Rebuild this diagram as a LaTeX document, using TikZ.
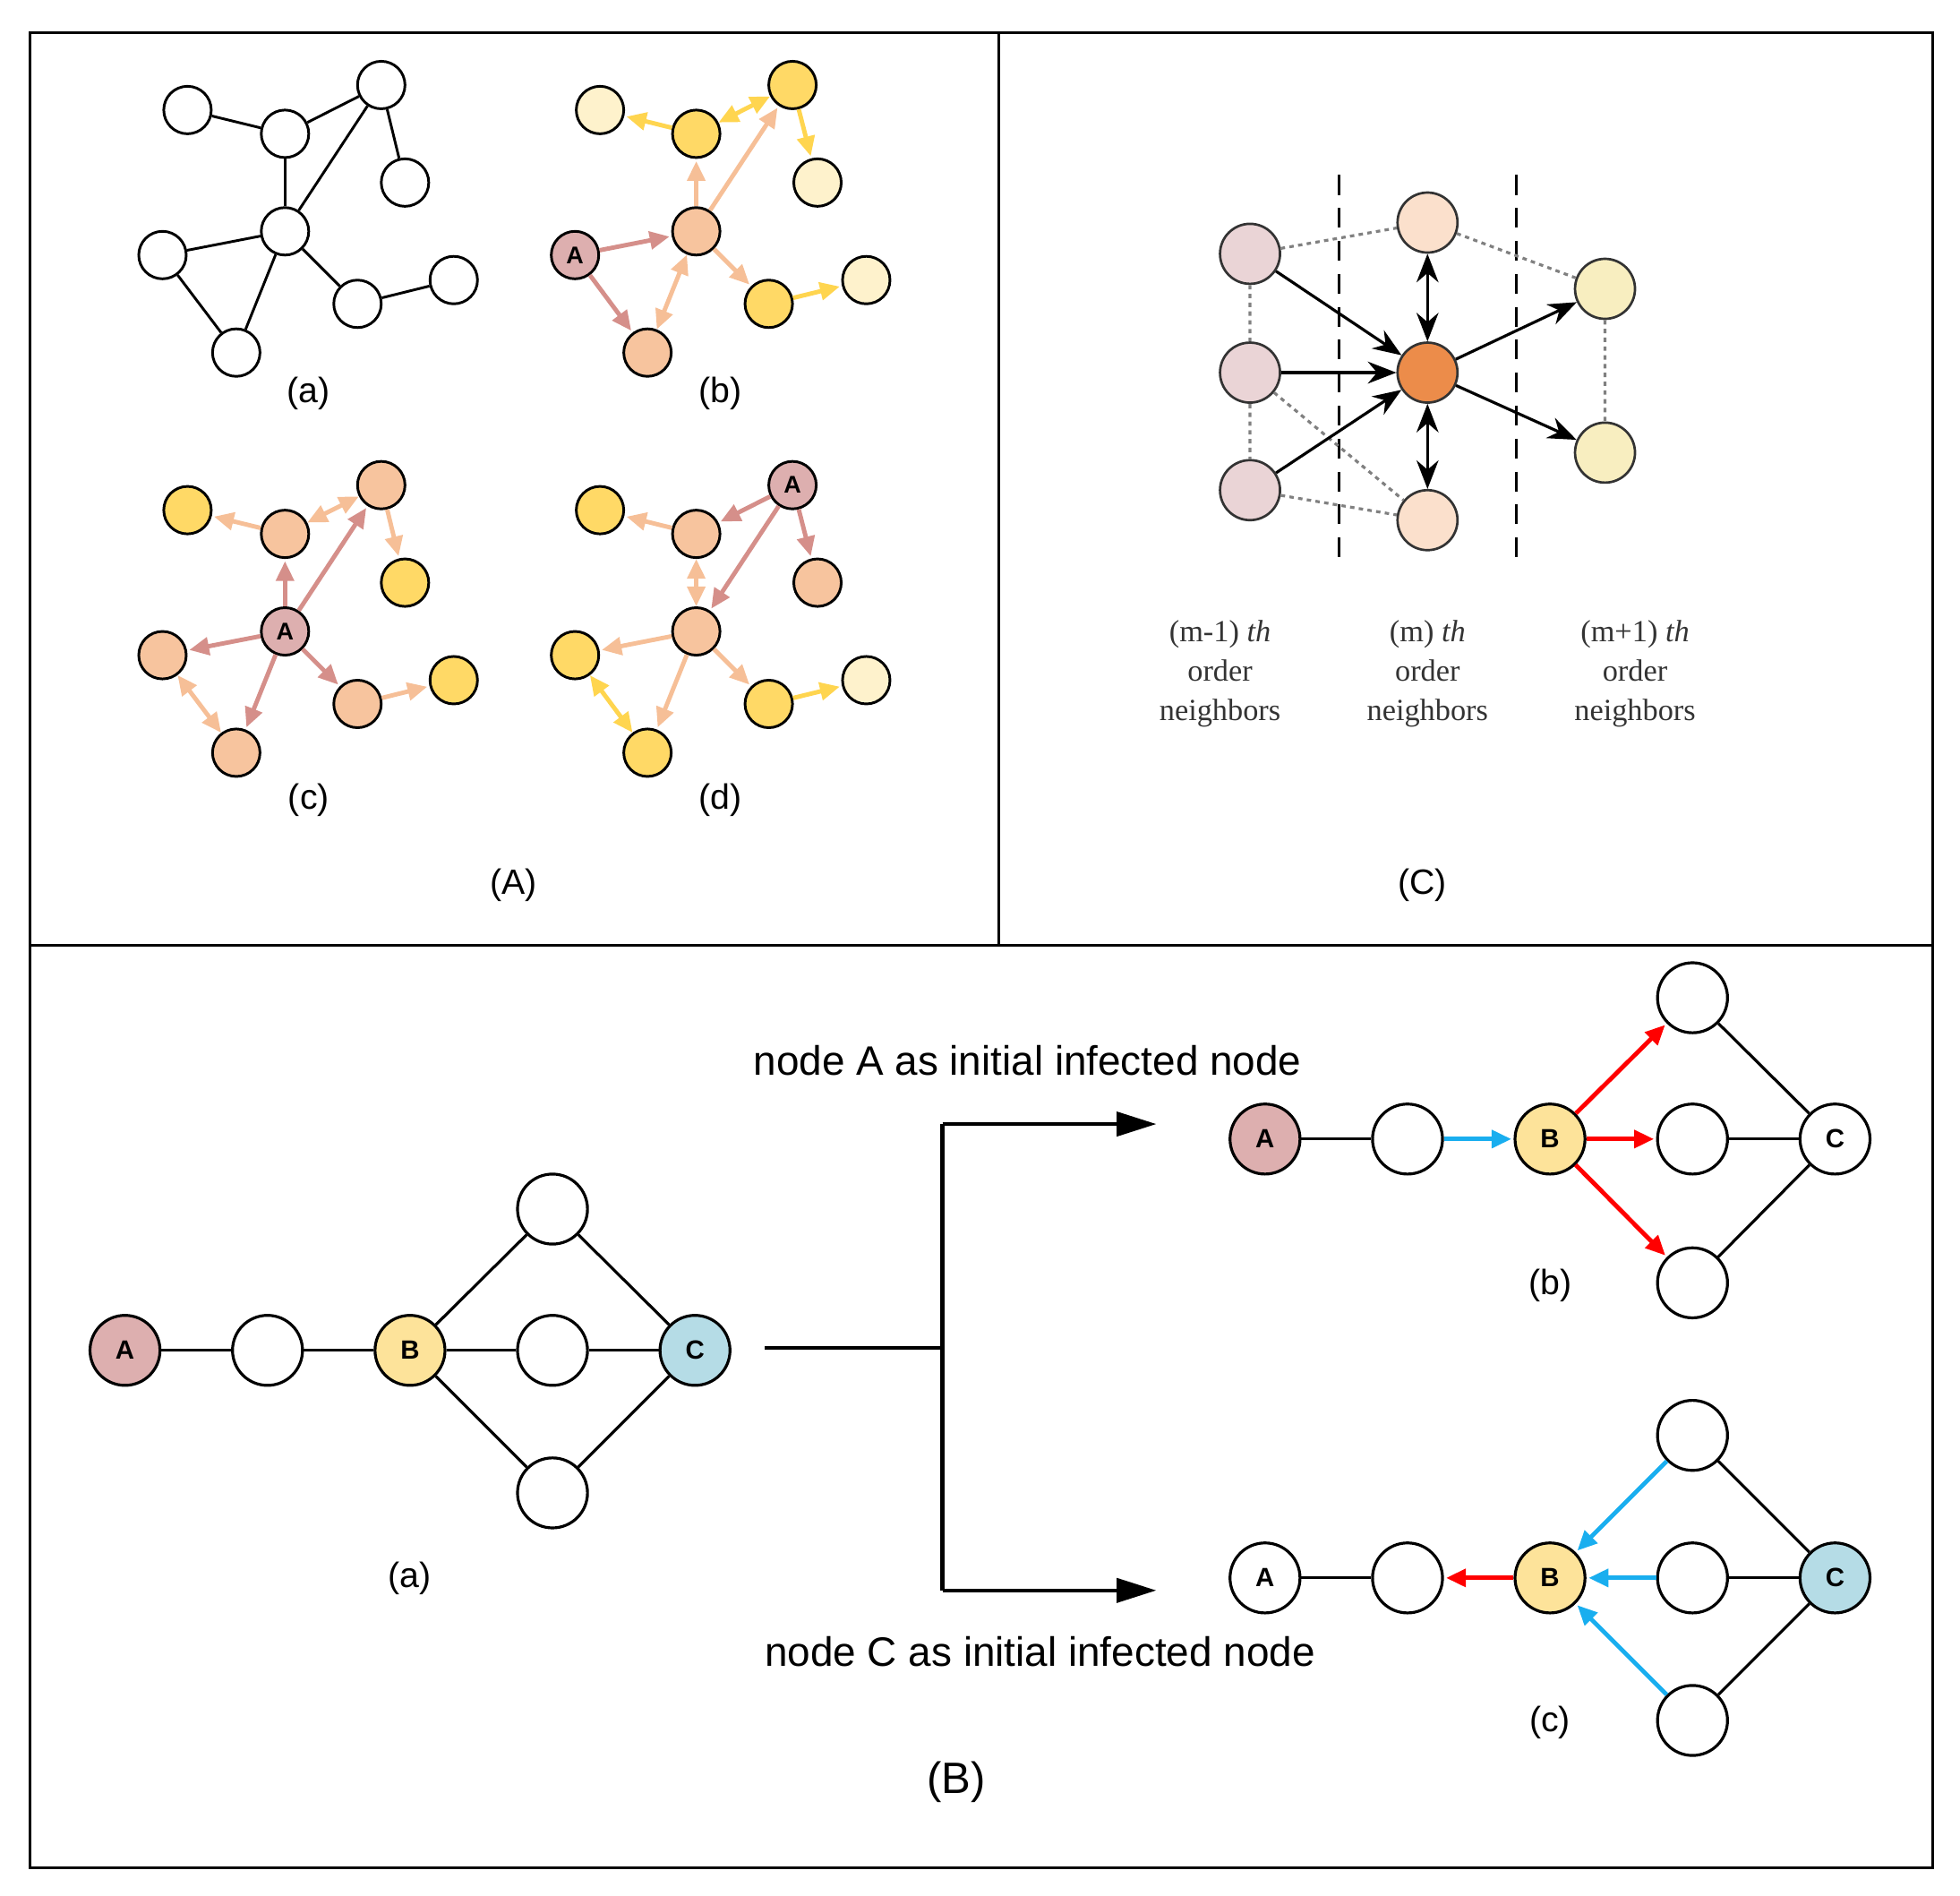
\documentclass[tikz,border=0pt]{standalone}
\usepackage{fontspec}
\setmainfont{Liberation Sans}
\newfontfamily\tms{Liberation Serif}
\usetikzlibrary{arrows.meta}
\definecolor{lyel}{HTML}{FEF2CC}
\definecolor{yel}{HTML}{FFD966}
\definecolor{pch}{HTML}{F7C49E}
\definecolor{apk}{HTML}{DDAFAF}
\definecolor{dpk}{HTML}{D58F8A}
\definecolor{apch}{HTML}{F6BF97}
\definecolor{ayel}{HTML}{FFD54F}
\definecolor{byel}{HTML}{FDE39A}
\definecolor{bblue}{HTML}{B5DCE6}
\definecolor{cyanA}{HTML}{19AEEF}
\begin{document}
\begin{tikzpicture}[x=0.02cm,y=-0.02cm,
 sn/.style={circle,draw,line width=1.2pt,minimum size=0.76cm,inner sep=0pt,font=\bfseries\fontsize{11}{11}\selectfont},
 cn/.style={circle,draw=black!80,line width=1.1pt,minimum size=0.96cm,inner sep=0pt},
 bn/.style={circle,draw,line width=1.3pt,minimum size=1.12cm,inner sep=0pt,font=\bfseries\fontsize{12}{12}\selectfont},
 lab/.style={font=\fontsize{16}{16}\selectfont},
 ar/.style={line width=2pt,-{Triangle[length=9pt,width=8pt]},shorten >=1pt},
 dar/.style={line width=2pt,{Triangle[length=9pt,width=8pt]}-{Triangle[length=9pt,width=8pt]}},
 carr/.style={line width=1.3pt,-{Stealth[length=13pt,width=10pt]}},
 cdar/.style={line width=1.3pt,{Stealth[length=13pt,width=10pt]}-{Stealth[length=13pt,width=10pt]}},
 dot/.style={gray,dash pattern=on 2pt off 2pt,line width=1.3pt},
 barr/.style={line width=1.6pt,-{Triangle[length=18pt,width=11pt]}},
 nt/.style={font=\tms\fontsize{14}{14}\selectfont,text=black!80,align=center}]
\useasboundingbox (0,0) rectangle (1568,1516);
\draw[line width=1.2pt] (24,26) rectangle (1546,1494);
\draw[line width=1.2pt] (799,26) -- (799,756) (24,756) -- (1546,756);
% (a)
\foreach \n/\x/\y in {1/150/88,2/228/107,3/305/68,4/324/146,5/228/185,6/130/204,7/189/282,8/286/243,9/363/224}
  \node[sn,fill=white] (a\n) at (\x,\y) {};
\foreach \u/\v in {1/2,2/3,3/4,2/5,5/3,5/6,6/7,5/7,5/8,8/9} \draw[line width=1.2pt] (a\u)--(a\v);
% (b)
\node[sn,fill=lyel] (b1) at (480,88) {};
\node[sn,fill=yel] (b2) at (557,107) {};
\node[sn,fill=yel] (b3) at (634,68) {};
\node[sn,fill=lyel] (b4) at (654,146) {};
\node[sn,fill=pch] (b5) at (557,185) {};
\node[sn,fill=apk] (b6) at (460,204) {A};
\node[sn,fill=pch] (b7) at (518,282) {};
\node[sn,fill=yel] (b8) at (615,243) {};
\node[sn,fill=lyel] (b9) at (693,224) {};
\draw[ar,dpk] (b6)--(b5); \draw[ar,dpk] (b6)--(b7);
\draw[ar,apch] (b5)--(b2); \draw[ar,apch] (b5)--(b3); \draw[dar,apch] (b5)--(b7); \draw[ar,apch] (b5)--(b8);
\draw[ar,ayel] (b2)--(b1); \draw[dar,ayel] (b2)--(b3); \draw[ar,ayel] (b3)--(b4); \draw[ar,ayel] (b8)--(b9);
% (c)
\node[sn,fill=yel] (c1) at (150,408) {};
\node[sn,fill=pch] (c2) at (228,427) {};
\node[sn,fill=pch] (c3) at (305,388) {};
\node[sn,fill=yel] (c4) at (324,466) {};
\node[sn,fill=apk] (c5) at (228,505) {A};
\node[sn,fill=pch] (c6) at (130,524) {};
\node[sn,fill=pch] (c7) at (189,602) {};
\node[sn,fill=pch] (c8) at (286,563) {};
\node[sn,fill=yel] (c9) at (363,544) {};
\foreach \v in {2,3,6,7,8} \draw[ar,dpk] (c5)--(c\v);
\draw[ar,apch] (c2)--(c1); \draw[dar,apch] (c2)--(c3); \draw[ar,apch] (c3)--(c4); \draw[dar,apch] (c6)--(c7); \draw[ar,apch] (c8)--(c9);
% (d)
\node[sn,fill=yel] (d1) at (480,408) {};
\node[sn,fill=pch] (d2) at (557,427) {};
\node[sn,fill=apk] (d3) at (634,388) {A};
\node[sn,fill=pch] (d4) at (654,466) {};
\node[sn,fill=pch] (d5) at (557,505) {};
\node[sn,fill=yel] (d6) at (460,524) {};
\node[sn,fill=yel] (d7) at (518,602) {};
\node[sn,fill=yel] (d8) at (615,563) {};
\node[sn,fill=lyel] (d9) at (693,544) {};
\foreach \v in {2,4,5} \draw[ar,dpk] (d3)--(d\v);
\draw[ar,apch] (d2)--(d1); \draw[dar,apch] (d2)--(d5); \draw[ar,apch] (d5)--(d6); \draw[ar,apch] (d5)--(d7); \draw[ar,apch] (d5)--(d8);
\draw[dar,ayel] (d6)--(d7); \draw[ar,ayel] (d8)--(d9);
\node[lab] (la) at (247,315) {(a)}; \node[lab] (lb) at (576,315) {(b)};
\node[lab] (lc) at (247,640) {(c)}; \node[lab] (ld) at (576,640) {(d)};
\node[lab] (lA) at (411,708) {(A)}; \node[lab] (lC) at (1138,708) {(C)};
% panel C
\draw[dashed,line width=1.3pt,dash pattern=on 9pt off 6pt] (1071,140)--(1071,455) (1213,140)--(1213,455);
\node[cn,fill={rgb,255:red,234;green,212;blue,214}] (L1) at (1000,203) {};
\node[cn,fill={rgb,255:red,234;green,212;blue,214}] (L2) at (1000,298) {};
\node[cn,fill={rgb,255:red,234;green,212;blue,214}] (L3) at (1000,392) {};
\node[cn,fill={rgb,255:red,251;green,224;blue,204}] (M1) at (1142,178) {};
\node[cn,fill={rgb,255:red,236;green,140;blue,74}] (M2) at (1142,298) {};
\node[cn,fill={rgb,255:red,251;green,224;blue,204}] (M3) at (1142,416) {};
\node[cn,fill={rgb,255:red,248;green,238;blue,192}] (R1) at (1284,231) {};
\node[cn,fill={rgb,255:red,248;green,238;blue,192}] (R2) at (1284,362) {};
\draw[dot] (L1)--(M1) (L1)--(L2) (L2)--(L3) (L3)--(M3) (L2)--(M3) (M1)--(R1) (R1)--(R2);
\draw[carr] (L1)--(M2); \draw[carr] (L2)--(M2); \draw[carr] (L3)--(M2);
\draw[cdar] (M2)--(M1); \draw[cdar] (M2)--(M3);
\draw[carr] (M2)--(R1); \draw[carr] (M2)--(R2);
\node[nt] (t1) at (976,539) {(m-1) \textit{th}\\[4pt]order\\[4pt]neighbors};
\node[nt] (t2) at (1142,539) {(m) \textit{th}\\[4pt]order\\[4pt]neighbors};
\node[nt] (t3) at (1308,539) {(m+1) \textit{th}\\[4pt]order\\[4pt]neighbors};
% panel B (a)
\node[bn,fill=apk] (pA) at (100,1080) {A};
\node[bn,fill=white] (p1) at (214,1080) {};
\node[bn,fill=byel] (pB) at (328,1080) {B};
\node[bn,fill=white] (pt) at (442,967) {};
\node[bn,fill=white] (pm) at (442,1080) {};
\node[bn,fill=white] (pb) at (442,1194) {};
\node[bn,fill=bblue] (pC) at (556,1080) {C};
\foreach \u/\v in {pA/p1,p1/pB,pB/pt,pB/pm,pB/pb,pt/pC,pm/pC,pb/pC} \draw[line width=1.3pt] (\u)--(\v);
\node[lab] (pla) at (328,1262) {(a)};
\node[font=\fontsize{20}{20}\selectfont] (pl) at (765,1425) {(B)};
% bracket
\coordinate (s0) at (612,1078); \coordinate (s1) at (754,1078);
\coordinate (s2) at (754,899); \coordinate (s3) at (754,1272);
\coordinate (e1) at (925,899); \coordinate (e2) at (925,1272);
\draw[line width=1.8pt] (s0)--(s1) (s2)--(s3);
\draw[barr] (s2)--(e1); \draw[barr] (s3)--(e2);
\node[font=\fontsize{18.7}{18.7}\selectfont] (ta) at (822,848) {node A as initial infected node};
\node[font=\fontsize{18.7}{18.7}\selectfont] (tc) at (832,1321) {node C as initial infected node};
% panel B (b)
\node[bn,fill=apk] (qA) at (1012,911) {A};
\node[bn,fill=white] (q1) at (1126,911) {};
\node[bn,fill=byel] (qB) at (1240,911) {B};
\node[bn,fill=white] (qt) at (1354,798) {};
\node[bn,fill=white] (qm) at (1354,911) {};
\node[bn,fill=white] (qb) at (1354,1026) {};
\node[bn,fill=white] (qC) at (1468,911) {C};
\foreach \u/\v in {qA/q1,qt/qC,qm/qC,qb/qC} \draw[line width=1.3pt] (\u)--(\v);
\draw[ar,cyanA] (q1)--(qB);
\draw[ar,red] (qB)--(qt); \draw[ar,red] (qB)--(qm); \draw[ar,red] (qB)--(qb);
\node[lab] (qlb) at (1240,1028) {(b)};
% panel B (c)
\node[bn,fill=white] (rA) at (1012,1262) {A};
\node[bn,fill=white] (r1) at (1126,1262) {};
\node[bn,fill=byel] (rB) at (1240,1262) {B};
\node[bn,fill=white] (rt) at (1354,1148) {};
\node[bn,fill=white] (rm) at (1354,1262) {};
\node[bn,fill=white] (rb) at (1354,1376) {};
\node[bn,fill=bblue] (rC) at (1468,1262) {C};
\foreach \u/\v in {rA/r1,rt/rC,rm/rC,rb/rC} \draw[line width=1.3pt] (\u)--(\v);
\draw[ar,red] (rB)--(r1);
\draw[ar,cyanA] (rt)--(rB); \draw[ar,cyanA] (rm)--(rB); \draw[ar,cyanA] (rb)--(rB);
\node[lab] (rlc) at (1240,1378) {(c)};
\end{tikzpicture}
\end{document}
